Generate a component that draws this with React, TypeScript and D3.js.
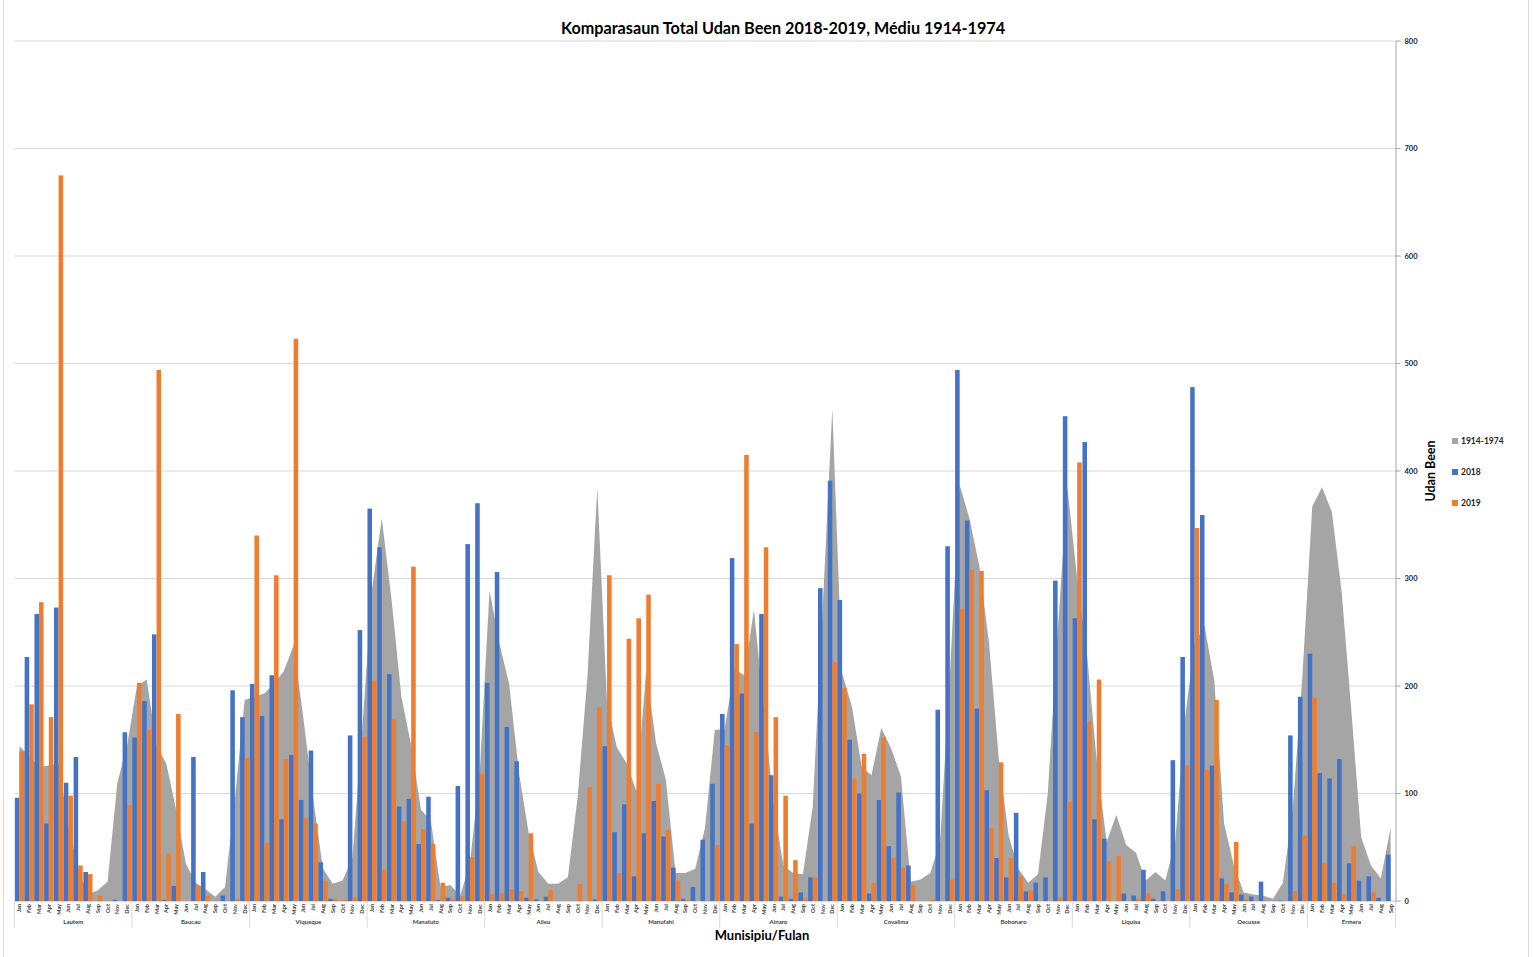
import * as d3 from 'd3';

// ─── Data ───────────────────────────────────────────────────

const municipios = ['Lautem', 'Baucau', 'Viqueque', 'Manatuto', 'Aileu', 'Manufahi', 'Ainaro', 'Covalima', 'Bobonaro', 'Liquisa', 'Oecusse', 'Ermera'];
const meses = ['Jan', 'Feb', 'Mar', 'Apr', 'May', 'Jun', 'Jul', 'Aug', 'Sep', 'Oct', 'Nov', 'Dec'];
const mesesPorMunicipio = [12, 12, 12, 12, 12, 12, 12, 12, 12, 12, 12, 9];

// média 1914-1974 (area)
const media1914 = [
  144, 135, 125, 126, 128, 70, 30, 6, 10, 18, 110, 145,
  200, 206, 145, 128, 85, 35, 17, 11, 4, 13, 95, 187,
  190, 193, 202, 214, 238, 170, 95, 30, 16, 19, 40, 160,
  290, 356, 280, 190, 145, 85, 75, 13, 15, 5, 35, 120,
  289, 240, 202, 120, 63, 27, 16, 16, 22, 97, 209, 385,
  184, 143, 128, 102, 215, 147, 113, 26, 26, 30, 68, 159,
  160, 216, 210, 271, 180, 90, 33, 26, 25, 88, 270, 458,
  212, 181, 125, 117, 161, 142, 116, 18, 20, 26, 55, 210,
  387, 356, 312, 240, 132, 61, 30, 17, 25, 100, 250, 385,
  300, 230, 130, 55, 80, 52, 45, 19, 27, 19, 55, 170,
  240, 256, 205, 72, 33, 8, 6, 5, 2, 17, 85, 210,
  367, 385, 362, 288, 176, 59, 33, 21, 68,
];

const total2018 = [
  96, 227, 267, 72, 273, 110, 134, 27, 0, 0, 1, 157,
  152, 186, 248, 1, 14, 0, 134, 27, 0, 5, 196, 171,
  202, 172, 210, 76, 136, 94, 140, 36, 2, 0, 154, 252,
  365, 329, 211, 88, 95, 53, 97, 1, 3, 107, 332, 370,
  203, 306, 162, 130, 3, 1.5, 4, 0, 0, 0, 0, 1.5,
  144, 64, 90, 23, 63, 93, 60, 31, 2, 13, 57, 109,
  174, 319, 193, 72, 267, 117, 4, 2, 8, 22, 291, 391,
  280, 150, 100, 7, 94, 51, 101, 33, 0, 0, 178, 330,
  494, 354, 179, 103, 40, 22, 82, 9, 17, 22, 298, 451,
  263, 427, 76, 58, 0, 7, 5, 29, 2, 9, 131, 227,
  478, 359, 126, 21, 8, 6, 4, 18, 0, 0.5, 154, 190,
  230, 119, 114, 132, 35, 19, 23, 3, 43,
];

const total2019 = [
  139, 183, 278, 171, 675, 98, 33, 25, 5, 0, 0, 89,
  203, 159, 494, 44, 174, 0, 14, 5, 0, 0, 2, 133,
  340, 54, 303, 132, 523, 77, 72, 19, 2, 1, 3, 153,
  205, 29, 169, 74, 311, 67, 53, 17, 2, 4, 41, 118,
  6.5, 7, 11, 9, 63, 0, 10, 0, 0, 16, 106, 180,
  303, 26, 244, 263, 285, 109, 66, 19, 1, 0, 0, 52,
  145, 239, 415, 157, 329, 171, 98, 38, 3, 22, 0, 222,
  198, 114, 137, 17, 152, 40, 31, 15, 0, 1, 0, 20,
  272, 308, 307, 68, 129, 40, 23, 10, 0, 0, 3, 92,
  408, 167, 206, 37, 42, 0, 2, 7, 0, 0, 11, 126,
  347, 122, 187, 16, 55, 2, 0, 0, 0, 0, 9, 61,
  189, 35, 17, 6, 51, 0, 8, 0, 0,
];

const legendItems = [
  { label: '1914-1974', color: '#a5a5a5' },
  { label: '2018', color: '#4472c4' },
  { label: '2019', color: '#ed7d31' },
];

// ─── Layout ─────────────────────────────────────────────────

const W = 1533;
const H = 957;
const plot = { left: 14.5, right: 1395.5, top: 41, bottom: 901 };
const FONT = "Lato, 'Liberation Sans', sans-serif";

interface Cat {
  key: string;
  mun: number;
  mes: string;
  avg: number;
  v18: number;
  v19: number;
}

const cats: Cat[] = [];
municipios.forEach((m, mi) => {
  for (let k = 0; k < mesesPorMunicipio[mi]; k++) {
    const idx = cats.length;
    cats.push({
      key: `${m}-${meses[k]}`,
      mun: mi,
      mes: meses[k],
      avg: media1914[idx],
      v18: total2018[idx],
      v19: total2019[idx],
    });
  }
});

export default function App() {
  const x = d3.scaleBand<string>()
    .domain(cats.map((d) => d.key))
    .range([plot.left, plot.right])
    .paddingInner(0)
    .paddingOuter(0);

  const y = d3.scaleLinear().domain([0, 800]).range([plot.bottom, plot.top]);

  const bw = x.bandwidth();
  const barW = bw * 0.465;
  const cx = (d: Cat) => (x(d.key) as number) + bw / 2;

  const area = d3.area<Cat>()
    .x((d) => cx(d))
    .y0(y(0))
    .y1((d) => y(d.avg));

  // group boundaries for multi-level axis
  const groupStarts: number[] = [];
  let acc = 0;
  mesesPorMunicipio.forEach((n) => {
    groupStarts.push(acc);
    acc += n;
  });
  const bounds = groupStarts.map((s) => x(cats[s].key) as number).concat([plot.right]);

  const ticks = y.ticks(8);

  return (
    <div style={{ position: 'fixed', left: 0, top: 0 }}>
      <svg width={W} height={H} style={{ display: 'block', background: '#fff' }} fontFamily={FONT}>
        {/* chart border */}
        <line x1={3.5} x2={3.5} y1={0} y2={H} stroke="#d9d9d9" />
        <line x1={1528.5} x2={1528.5} y1={0} y2={H} stroke="#d9d9d9" />

        {/* title */}
        <text x={783} y={34} textAnchor="middle" fontSize={16.2} fontWeight={700} fill="#000">
          Komparasaun Total Udan Been 2018-2019, Médiu 1914-1974
        </text>

        {/* gridlines */}
        {ticks.map((t) => (
          <line key={t} x1={plot.left} x2={plot.right} y1={y(t)} y2={y(t)} stroke="#d9d9d9" strokeWidth={1} />
        ))}

        {/* area 1914-1974 */}
        <path d={area(cats) ?? ''} fill="#a5a5a5" />

        {/* bars */}
        {cats.map((d) => (
          <g key={d.key}>
            <rect x={cx(d) - barW} y={y(d.v18)} width={barW} height={y(0) - y(d.v18)} fill="#4472c4" />
            <rect x={cx(d)} y={y(d.v19)} width={barW} height={y(0) - y(d.v19)} fill="#ed7d31" />
          </g>
        ))}

        {/* x axis */}
        <line x1={plot.left} x2={plot.right} y1={plot.bottom + 0.5} y2={plot.bottom + 0.5} stroke="#d9d9d9" />
        {bounds.map((b, i) => (
          <line key={i} x1={b} x2={b} y1={plot.bottom} y2={plot.bottom + 27} stroke="#d9d9d9" />
        ))}
        {cats.map((d) => (
          <text
            key={d.key}
            transform={`translate(${cx(d) + 2},${plot.bottom + 3}) rotate(-90)`}
            textAnchor="end"
            fontSize={5.5}
            fontWeight={700}
            fill="#404040"
          >
            {d.mes}
          </text>
        ))}
        {municipios.map((m, i) => (
          <text
            key={m}
            x={(bounds[i] + bounds[i + 1]) / 2}
            y={plot.bottom + 23}
            textAnchor="middle"
            fontSize={6}
            fontWeight={700}
            fill="#404040"
          >
            {m}
          </text>
        ))}
        <text x={762} y={940} textAnchor="middle" fontSize={13} fontWeight={700} fill="#000">
          Munisipiu/Fulan
        </text>

        {/* right y axis */}
        <line x1={plot.right + 0.5} x2={plot.right + 0.5} y1={plot.top} y2={plot.bottom} stroke="#a6a6a6" />
        {ticks.map((t) => (
          <g key={t}>
            <line x1={plot.right} x2={plot.right + 5} y1={y(t)} y2={y(t)} stroke="#a6a6a6" />
            <text x={plot.right + 9} y={y(t) + 2.5} fontSize={7.5} fontWeight={700} fill="#262626">
              {t}
            </text>
          </g>
        ))}
        <text
          transform={`translate(1435,471) rotate(-90)`}
          textAnchor="middle"
          fontSize={12.5}
          fontWeight={700}
          fill="#000"
        >
          Udan Been
        </text>

        {/* legend */}
        {legendItems.map((l, i) => (
          <g key={l.label} transform={`translate(1452,${441 + i * 31})`}>
            <rect x={0} y={-3} width={6} height={6} fill={l.color} />
            <text x={9} y={3} fontSize={8.5} fontWeight={700} fill="#262626">
              {l.label}
            </text>
          </g>
        ))}
      </svg>
    </div>
  );
}
